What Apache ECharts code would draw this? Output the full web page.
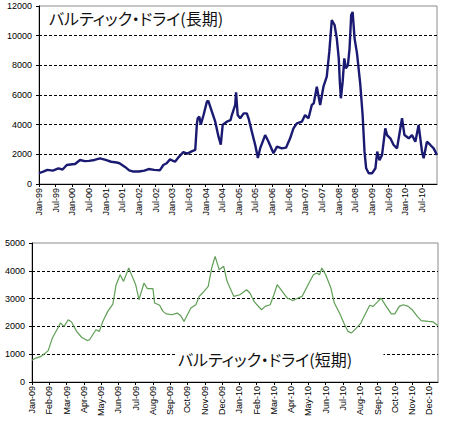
<!DOCTYPE html>
<html>
<head>
<meta charset="utf-8">
<script src="https://cdn.jsdelivr.net/npm/echarts@6/dist/echarts.min.js"></script>
<style>
html,body{margin:0;padding:0;background:#fff;}
#c{width:450px;height:428px;}
#c svg text{font-feature-settings:"palt" 1 !important;}
</style>
</head>
<body>
<div id="c"></div>
<script>
// ---- Long-term (top) ----
const longTitle = 'バルティック・ドライ(長期)';
const longTickLabels = ['Jan-99','Jul-99','Jan-00','Jul-00','Jan-01','Jul-01','Jan-02','Jul-02','Jan-03','Jul-03','Jan-04','Jul-04','Jan-05','Jul-05','Jan-06','Jul-06','Jan-07','Jul-07','Jan-08','Jul-08','Jan-09','Jul-09','Jan-10','Jul-10'];
const longDates = ['1999-01-01','1999-02-16','1999-04-01','1999-06-01','1999-08-01','1999-09-16','1999-11-01','2000-01-01','2000-02-01','2000-03-25','2000-05-16','2000-07-01','2000-09-01','2000-11-01','2001-01-01','2001-03-01','2001-05-01','2001-06-01','2001-08-01','2001-09-16','2001-11-01','2002-01-01','2002-03-01','2002-04-16','2002-06-16','2002-08-19','2002-09-25','2002-11-01','2002-12-07','2003-02-01','2003-03-16','2003-05-01','2003-06-16','2003-08-01','2003-09-10','2003-09-28','2003-10-07','2003-10-25','2003-11-10','2003-12-10','2004-01-16','2004-02-01','2004-03-10','2004-04-16','2004-05-22','2004-06-16','2004-07-07','2004-08-22','2004-10-01','2004-10-16','2004-11-22','2004-12-01','2004-12-19','2005-01-16','2005-02-22','2005-03-28','2005-04-16','2005-05-22','2005-06-28','2005-07-28','2005-08-22','2005-10-16','2005-11-22','2006-01-16','2006-02-22','2006-04-16','2006-06-01','2006-07-16','2006-08-22','2006-09-28','2006-11-22','2006-12-28','2007-02-04','2007-03-10','2007-04-01','2007-05-04','2007-06-10','2007-07-16','2007-08-22','2007-09-19','2007-10-16','2007-11-16','2007-12-10','2008-01-01','2008-01-13','2008-01-25','2008-02-13','2008-03-01','2008-03-19','2008-04-10','2008-04-28','2008-05-16','2008-06-01','2008-06-22','2008-07-19','2008-08-25','2008-09-19','2008-10-10','2008-10-28','2008-11-25','2009-01-01','2009-02-07','2009-02-25','2009-03-22','2009-04-19','2009-05-25','2009-06-13','2009-07-19','2009-08-25','2009-10-01','2009-11-25','2009-12-22','2010-02-07','2010-03-13','2010-04-19','2010-05-25','2010-07-01','2010-07-19','2010-08-25','2010-10-01','2010-11-07','2010-12-13'];
const longValues = [740,830,950,900,1050,980,1280,1330,1350,1620,1540,1560,1620,1730,1620,1500,1450,1400,1150,920,840,840,900,1010,950,930,1280,1400,1660,1500,1850,2150,2050,2200,2300,4090,4430,4540,4000,4650,5550,5600,4875,4200,3190,2650,4000,4200,4300,4650,5330,6180,4650,4430,4760,4760,4430,3530,2630,1750,2400,3300,2850,2070,2520,2400,2450,3080,3750,4090,4200,4650,4430,5330,5440,6560,5330,6560,7235,8920,11050,10720,9820,8470,6900,5780,6900,8470,7800,8000,9150,11400,11600,9820,8810,6675,4650,2180,1060,720,720,1060,2180,1600,1960,3750,3300,3080,2630,2400,4430,3300,3080,3300,2850,3980,2180,1730,2850,2630,2400,1960];

// ---- Short-term (bottom) ----
const shortTitle = 'バルティック・ドライ(短期)';
const shortTickLabels = ['Jan-09','Feb-09','Mar-09','Apr-09','May-09','Jun-09','Jul-09','Aug-09','Sep-09','Oct-09','Nov-09','Dec-09','Jan-10','Feb-10','Mar-10','Apr-10','May-10','Jun-10','Jul-10','Aug-10','Sep-10','Oct-10','Nov-10','Dec-10'];
const shortDates = ['2009-01-01','2009-01-08','2009-01-17','2009-01-25','2009-01-30','2009-02-06','2009-02-15','2009-02-19','2009-02-25','2009-03-04','2009-03-10','2009-03-19','2009-03-28','2009-04-07','2009-04-11','2009-04-22','2009-04-28','2009-05-04','2009-05-13','2009-05-22','2009-05-28','2009-06-04','2009-06-10','2009-06-19','2009-06-25','2009-07-01','2009-07-07','2009-07-16','2009-07-22','2009-08-01','2009-08-04','2009-08-13','2009-08-19','2009-08-25','2009-09-04','2009-09-13','2009-09-19','2009-09-25','2009-09-28','2009-10-07','2009-10-16','2009-10-22','2009-10-28','2009-11-07','2009-11-13','2009-11-19','2009-11-26','2009-12-04','2009-12-10','2009-12-22','2010-01-02','2010-01-14','2010-01-20','2010-01-28','2010-02-09','2010-02-15','2010-02-23','2010-03-01','2010-03-07','2010-03-16','2010-03-25','2010-04-04','2010-04-13','2010-04-20','2010-05-02','2010-05-10','2010-05-16','2010-05-21','2010-05-25','2010-06-01','2010-06-10','2010-06-16','2010-06-25','2010-07-04','2010-07-10','2010-07-16','2010-07-25','2010-08-02','2010-08-11','2010-08-18','2010-08-24','2010-09-01','2010-09-07','2010-09-16','2010-09-25','2010-10-01','2010-10-09','2010-10-16','2010-10-25','2010-11-01','2010-11-10','2010-11-17','2010-11-29','2010-12-08','2010-12-16'];
const shortValues = [780,860,920,1040,1130,1580,1940,2120,2000,2240,2160,1820,1610,1490,1520,1880,1820,2180,2540,2800,3500,3860,3620,4100,3800,3500,2960,3560,3360,3360,2840,2760,2540,2450,2420,2480,2390,2180,2300,2660,2780,3080,3200,3440,4100,4520,4040,4160,3620,3080,3140,3320,3200,2880,2600,2720,2780,3140,3500,3260,3020,2930,3020,3080,3560,3860,3920,3860,4100,3860,3380,2840,2480,2060,1820,1760,1940,2120,2480,2760,2720,2880,3020,2720,2450,2450,2720,2780,2720,2600,2360,2210,2180,2160,2030];

function monthIndex(s, baseYear) {
  const p = s.split('-').map(Number);
  const dim = new Date(p[0], p[1], 0).getDate();
  return (p[0] - baseYear) * 12 + (p[1] - 1) + (p[2] - 1) / dim;
}
const longData = longDates.map((d, i) => [monthIndex(d, 1999), longValues[i]]);
const shortData = shortDates.map((d, i) => [monthIndex(d, 2009), shortValues[i]]);
const longTickVals = longTickLabels.map((_, i) => i * 6);
const shortTickVals = shortTickLabels.map((_, i) => i);

const FONT = '"Liberation Sans", Arial, sans-serif';
const JP = '"Noto Sans CJK JP", sans-serif';
const labelStyle = { fontSize: 9, color: '#000', fontFamily: FONT };
const plain = (v) => String(v);
const dashed = (n) => {
  const c = [];
  for (let i = 0; i <= n; i++) c.push(i === 0 || i === n ? 'rgba(0,0,0,0)' : '#000');
  return c;
};

const chart = echarts.init(document.getElementById('c'), null, { renderer: 'svg' });
chart.setOption({
  animation: false,
  backgroundColor: '#fff',
  title: [
    { text: longTitle, left: 49, top: 10, padding: 0,
      textStyle: { fontFamily: JP, fontSize: 16, fontWeight: 'normal', color: '#111' } },
    { text: shortTitle, left: 176, top: 350, padding: [1, 3, 1, 2], backgroundColor: '#fff',
      textStyle: { fontFamily: JP, fontSize: 16, fontWeight: 'normal', color: '#111', width: 184, overflow: 'none' } }
  ],
  grid: [
    { left: 39, top: 6, width: 398, height: 178, show: true, borderColor: '#8c8c8c', borderWidth: 1, backgroundColor: 'transparent' },
    { left: 32, top: 243, width: 406, height: 139, show: true, borderColor: '#8c8c8c', borderWidth: 1, backgroundColor: 'transparent' }
  ],
  xAxis: [
    { type: 'value', gridIndex: 0, min: 0, max: 143.4, interval: 6,
      axisLine: { show: true, onZero: false, lineStyle: { color: '#000', width: 1 } },
      axisTick: { show: true, length: 3, customValues: longTickVals, lineStyle: { color: '#000' } },
      axisLabel: { rotate: 90, margin: 4, customValues: longTickVals, ...labelStyle,
        formatter: (v) => longTickLabels[Math.round(v / 6)] || '' },
      splitLine: { show: false } },
    { type: 'value', gridIndex: 1, min: 0, max: 23.5, interval: 1,
      axisLine: { show: true, onZero: false, lineStyle: { color: '#000', width: 1 } },
      axisTick: { show: true, length: 3, customValues: shortTickVals, lineStyle: { color: '#000' } },
      axisLabel: { rotate: 90, margin: 4, customValues: shortTickVals, ...labelStyle,
        formatter: (v) => shortTickLabels[Math.round(v)] || '' },
      splitLine: { show: false } }
  ],
  yAxis: [
    { type: 'value', gridIndex: 0, min: 0, max: 12000, interval: 2000,
      axisLine: { show: true, lineStyle: { color: '#000', width: 1 } },
      axisTick: { show: true, length: 3, lineStyle: { color: '#000' } },
      axisLabel: { margin: 7, ...labelStyle, formatter: plain },
      splitLine: { show: true, lineStyle: { color: dashed(6), type: [3, 2], width: 1 } } },
    { type: 'value', gridIndex: 1, min: 0, max: 5000, interval: 1000,
      axisLine: { show: true, lineStyle: { color: '#000', width: 1 } },
      axisTick: { show: true, length: 3, lineStyle: { color: '#000' } },
      axisLabel: { margin: 7, ...labelStyle, formatter: plain },
      splitLine: { show: true, lineStyle: { color: dashed(5), type: [3, 2], width: 1 } } }
  ],
  series: [
    { type: 'line', xAxisIndex: 0, yAxisIndex: 0, data: longData, showSymbol: false,
      lineStyle: { color: '#1a1a72', width: 2.4 }, z: 3 },
    { type: 'line', xAxisIndex: 1, yAxisIndex: 1, data: shortData, showSymbol: false,
      lineStyle: { color: '#5f9e55', width: 1.2 }, z: 3 }
  ]
});
</script>
</body>
</html>
